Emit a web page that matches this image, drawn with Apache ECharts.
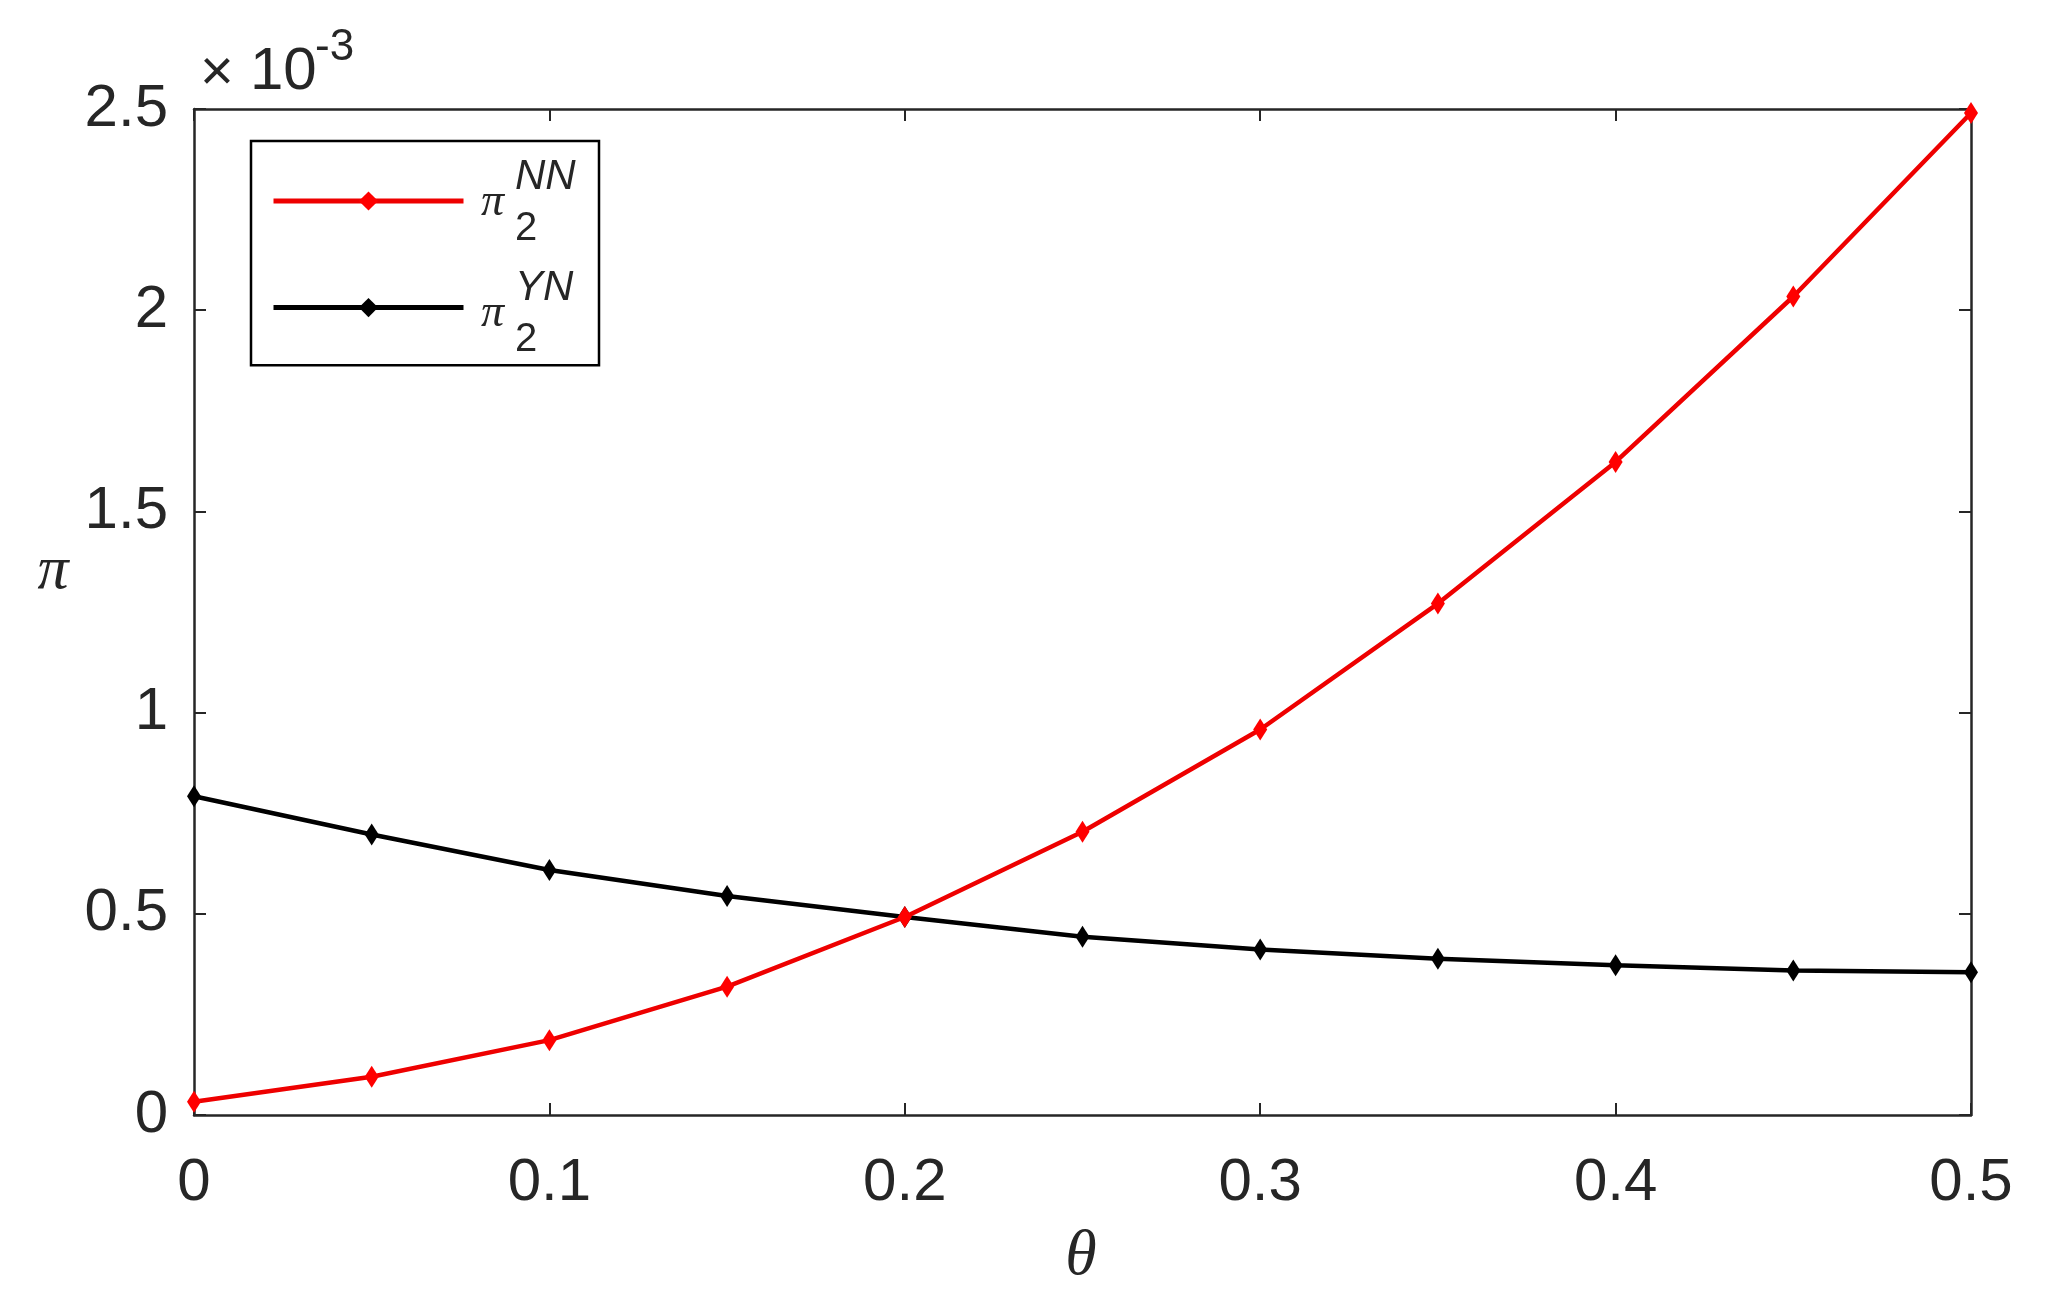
<!DOCTYPE html>
<html>
<head>
<meta charset="utf-8">
<script src="https://cdn.jsdelivr.net/npm/echarts@6/dist/echarts.min.js"></script>
<style>
html,body{margin:0;padding:0;background:#fff;}
#chart{width:2052px;height:1308px;}
</style>
</head>
<body>
<div id="chart"></div>
<script>
// theta values (x)
const theta = [0, 0.05, 0.1, 0.15, 0.2, 0.25, 0.3, 0.35, 0.4, 0.45, 0.5];
// values in units of 1e-3
const piNN = [0.033, 0.095, 0.186, 0.319, 0.492, 0.704, 0.958, 1.271, 1.623, 2.034, 2.49];
const piYN = [0.792, 0.697, 0.609, 0.544, 0.492, 0.443, 0.411, 0.388, 0.372, 0.359, 0.355];
const xTicks = [0, 0.1, 0.2, 0.3, 0.4, 0.5];
const yTicks = [0, 0.5, 1, 1.5, 2, 2.5];
const seriesNames = ['NN', 'YN'];

const FONT = '"Liberation Sans", Arial, sans-serif';
const SERIF = '"Liberation Serif", "Times New Roman", serif';
const TXT = '#262626';
const chart = echarts.init(document.getElementById('chart'), null, {renderer: 'canvas'});

const pair = (xs, ys) => xs.map((x, i) => [x, ys[i]]);
const axBase = () => ({
  type: 'value',
  axisLine: {show: true, onZero: false, lineStyle: {color: TXT, width: 2.5}},
  axisTick: {show: true, inside: true, length: 12, lineStyle: {color: TXT, width: 2}},
  splitLine: {show: false}
});
const fmt = v => String(+v.toFixed(2));
const txt = (x, y, text, font) => ({type: 'text', x, y, z: 100,
  style: {text, fill: TXT, font, align: 'left', verticalAlign: 'middle'}});

const option = {
  backgroundColor: '#ffffff',
  animation: false,
  grid: {left: 194, right: 81, top: 109, bottom: 193, containLabel: false},
  xAxis: [
    Object.assign(axBase(), {
      min: 0, max: 0.5, interval: 0.1, position: 'bottom',
      axisLabel: {color: TXT, fontSize: 60, fontFamily: FONT, margin: 38,
        formatter: v => xTicks.includes(+v.toFixed(2)) ? fmt(v) : ''}
    }),
    Object.assign(axBase(), {
      min: 0, max: 0.5, interval: 0.1, position: 'top', axisLabel: {show: false}
    })
  ],
  yAxis: [
    Object.assign(axBase(), {
      min: 0, max: 2.5, interval: 0.5, position: 'left',
      axisLabel: {color: TXT, fontSize: 60, fontFamily: FONT, margin: 26,
        formatter: v => yTicks.includes(+v.toFixed(2)) ? fmt(v) : ''}
    }),
    Object.assign(axBase(), {
      min: 0, max: 2.5, interval: 0.5, position: 'right', axisLabel: {show: false}
    })
  ],
  legend: {
    orient: 'vertical', left: 251, top: 141,
    padding: [48, 133, 48, 20], itemGap: 85,
    itemWidth: 190, itemHeight: 24,
    borderColor: '#000', borderWidth: 2.5, backgroundColor: '#fff',
    data: seriesNames,
    formatter: () => '',
    lineStyle: {width: 5},
    selectedMode: false
  },
  series: [
    {
      name: 'NN', type: 'line', data: pair(theta, piNN),
      symbol: 'diamond', symbolSize: [14, 22],
      lineStyle: {color: '#ee0000', width: 4.5},
      itemStyle: {color: '#ff0000'}, z: 3
    },
    {
      name: 'YN', type: 'line', data: pair(theta, piYN),
      symbol: 'diamond', symbolSize: [14, 22],
      lineStyle: {color: '#000000', width: 4.5},
      itemStyle: {color: '#000000'}, z: 2
    }
  ],
  graphic: [
    // axis titles
    {type: 'text', x: 53, y: 572, z: 100, style: {text: 'π', fill: TXT, font: 'italic 62px ' + SERIF, align: 'center', verticalAlign: 'middle'}},
    {type: 'text', x: 1081, y: 1257, z: 100, style: {text: 'θ', fill: TXT, font: 'italic 64px ' + SERIF, align: 'center', verticalAlign: 'middle'}},
    // exponent
    txt(200, 74, '×', '58px ' + FONT),
    txt(250, 72, '10', '60px ' + FONT),
    txt(315, 48, '-3', '44px ' + FONT),
    // legend labels
    txt(481, 203, 'π', 'italic 46px ' + SERIF),
    txt(515, 177, 'NN', 'italic 42px ' + FONT),
    txt(515, 229, '2', '40px ' + FONT),
    txt(481, 314, 'π', 'italic 46px ' + SERIF),
    txt(515, 288, 'YN', 'italic 42px ' + FONT),
    txt(515, 340, '2', '40px ' + FONT)
  ]
};
chart.setOption(option);
</script>
</body>
</html>
